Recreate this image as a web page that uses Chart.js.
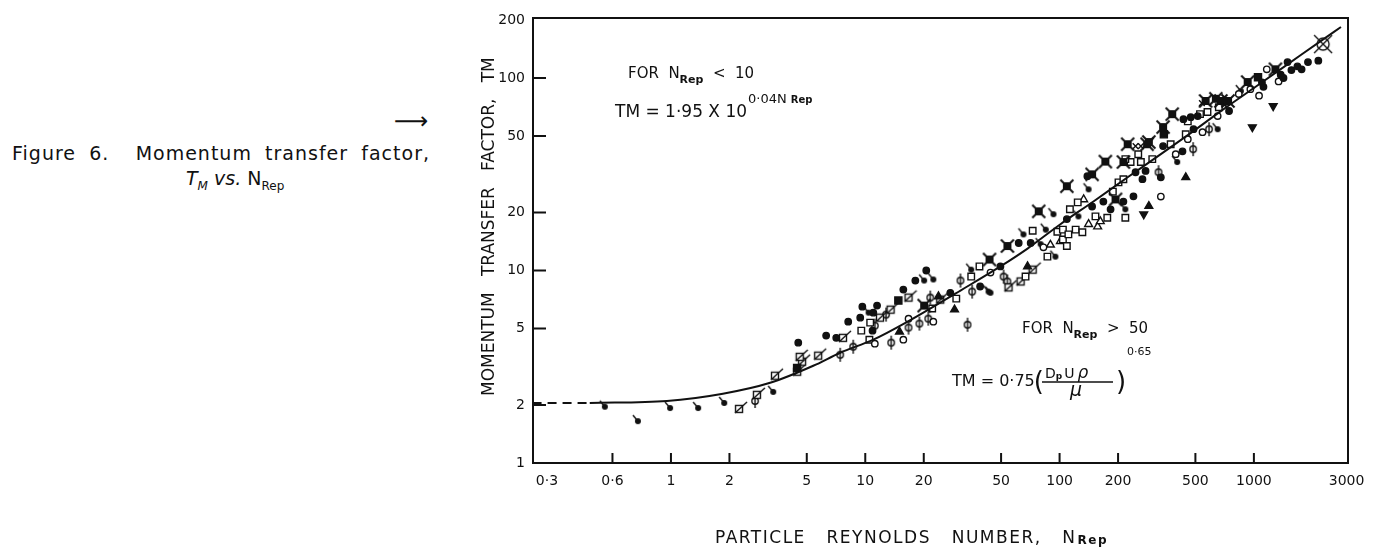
<!DOCTYPE html>
<html>
<head>
<meta charset="utf-8">
<script src="https://cdn.jsdelivr.net/npm/chart.js@4.4.1/dist/chart.umd.min.js"></script>
<style>
  html, body { margin: 0; padding: 0; background: #fff; }
  body { width: 1390px; height: 551px; position: relative; overflow: hidden;
         font-family: 'DejaVu Sans', sans-serif; color: #111; }
  #chart { position: absolute; left: 0; top: 0; }
  .cap1 { position: absolute; left: 12px; top: 141px; width: 418px; font-size: 19px; letter-spacing: 1px;
          line-height: 24px; text-align: justify; text-align-last: justify; }
  .cap2 { position: absolute; left: 186px; top: 166px; font-size: 19px; line-height: 24px; }
  .cap2 sub { font-size: 12px; }
  .arrow { position: absolute; left: 394px; top: 108px; font-size: 24px; line-height: 26px; }
</style>
</head>
<body>
<div class="arrow">⟶</div>
<div class="cap1">Figure 6.&nbsp; Momentum transfer factor,</div>
<div class="cap2"><i>T<sub>M</sub> vs.</i> N<sub>Rep</sub></div>
<canvas id="chart" width="1390" height="551"></canvas>
<script>
(function() {
    const FONT = "'DejaVu Sans', sans-serif";
    const INK = '#111';

    // axis ticks (positions follow the hand-drawn scale)
    const xTickValues = [0.23, 0.5, 1, 2, 5, 10, 20, 50, 100, 200, 500, 1000, 3000];
    const xTickLabels = ['0·3', '0·6', '1', '2', '5', '10', '20', '50', '100', '200', '500', '1000', '3000'];
    const yTickValues = [1, 2, 5, 10, 20, 50, 100, 200];

    // correlation curve
    const dashX = [0.194, 0.382];
    const dashY = [2.05, 2.05];
    const curveX = [0.382, 0.953, 1.85, 3.24, 5.4, 7.43, 11.0, 16.5, 30.9, 49.6, 68.4, 101, 150, 224, 332, 457, 676, 1000, 1496, 2215, 2806];
    const curveY = [2.05, 2.10, 2.29, 2.61, 3.2, 3.74, 4.37, 5.42, 7.87, 10.5, 13.0, 17.4, 22.9, 30.5, 40.2, 50.5, 67.3, 88.7, 118, 156, 184];

    // experimental points, [N_Rep, TM]
    const filledCircles = [[4.52,4.22],[6.29,4.59],[7.09,4.47],[8.17,5.42],[9.42,5.69],[9.66,6.49],[11.0,6.04],[11.5,6.57],
        [10.9,4.87],[15.7,7.96],[18.1,8.87],[20.6,10.0],[27.4,7.66],[39.0,8.26],[49.6,10.5],[61.6,13.9],[71.0,13.9],
        [109,18.5],[139,30.9],[147,21.5],[168,22.8],[183,20.8],[213,22.8],[240,24.3],[246,32.4],[267,29.8],[277,32.9],
        [332,30.5],[341,44.3],[429,41.6],[434,61.1],[473,62.6],[489,54.2],[514,63.4],[745,67.4],[1100,95],[1120,90],
        [1374,104],[1420,100],[1490,121],[1560,110],[1675,115],[1760,111],[1898,121],[2146,123]];
    const openCircles = [[11.2,4.17],[15.7,4.37],[16.7,5.62],[22.4,5.42],[44.1,9.75],[82.6,13.2],[332,24.2],[396,40.2],
        [457,48.1],[544,52.3],[651,63.4],[836,82.6],[959,87.5],[1063,81],[1165,111],[1340,96]];
    const openSquares = [[9.54,4.87],[10.6,5.36],[10.5,4.37],[22.1,6.35],[29.4,7.14],[35.1,9.3],[38.7,10.5],[66.8,9.3],
        [72.7,16.1],[86.6,11.8],[97.4,15.9],[104,16.3],[104,14.5],[109,13.4],[111,15.4],[113,20.8],[121,16.3],[124,22.6],
        [131,15.8],[153,19.1],[176,18.8],[188,25.7],[201,28.7],[218,18.8],[213,29.8],[232,36.6],[254,40.2],[218,37.9],
        [262,36.6],[300,37.9],[373,45.3],[446,51.0],[457,59.5],[528,64.9],[577,66.6],[660,70.5]];
    const filledSquares = [[4.46,3.12],[14.8,6.98],[344,51.0],[1050,101]];
    const filledTriangles = [[15.0,4.81],[23.8,7.33],[28.8,6.27],[68.4,10.5],[288,21.6],[446,30.5]];
    const downTriangles = [[271,19.6],[982,55.6],[1257,71.5]];
    const openTriangles = [[89.7,13.6],[101,14.2],[133,23.4],[141,17.4],[157,16.9],[162,18.0]];
    const flagDots = [[0.457,1.96],[0.676,1.65],[0.99,1.93],[1.38,1.93],[1.88,2.05],[3.36,2.34],[10.4,6.04],[20.1,8.87],
        [22.4,8.98],[35.1,10.1],[43.1,7.77],[44.1,7.66],[65.2,15.4],[79.9,13.7],[84.9,16.3],[93.0,19.6],[95.2,11.8],
        [125,19.1],[141,26.4],[218,20.8],[403,36.6],[651,54.2],[857,85.5]];
    const slashSquares = [[2.24,1.91],[2.77,2.26],[3.43,2.84],[4.46,2.98],[4.73,3.36],[4.60,3.56],[5.72,3.61],[7.68,4.47],
        [11.9,5.69],[13.5,6.26],[16.7,7.23],[24.3,7.06],[54.6,8.17],[63.0,8.77],[72.7,10.1]];
    const phiCircles = [[2.71,2.10],[7.43,3.65],[8.67,4.02],[11.2,5.17],[12.8,5.90],[13.6,4.22],[16.7,5.05],[19.0,5.30],
        [21.6,7.23],[21.1,5.62],[33.6,5.23],[30.9,8.87],[35.5,7.77],[51.5,9.3],[53.9,8.77],[323,32.4],[487,42.7],[588,54.2]];
    const starSquares = [[20.1,6.57],[43.6,11.4],[53.9,13.4],[78.1,20.3],[109,27.4],[147,31.6],[172,36.8],[194,23.4],
        [213,36.6],[224,45.3],[282,45.3],[288,46.5],[341,55.6],[380,64.9],[564,76.0],[637,78.0],[676,76.0],[736,76.0],
        [929,95.3],[1290,111]];
    const crossMarks = [[246,44.3],[262,44.3],[540,74]];
    const bigMarks = [[2270,150]];

    // small canvas markers for the odd symbols
    function marker(size, draw) {
        const c = document.createElement('canvas');
        c.width = c.height = size;
        const g = c.getContext('2d');
        g.strokeStyle = INK;
        g.fillStyle = INK;
        g.lineWidth = 1.4;
        draw(g, size / 2);
        return c;
    }
    const flagImg = marker(16, (g, m) => {
        g.beginPath(); g.arc(m, m, 3, 0, Math.PI * 2); g.fill();
        g.beginPath(); g.moveTo(m, m); g.lineTo(m - 5, m - 6); g.stroke();
    });
    const phiImg = marker(16, (g, m) => {
        g.beginPath(); g.arc(m, m, 3.2, 0, Math.PI * 2);
        g.fillStyle = '#fff'; g.fill(); g.stroke();
        g.beginPath(); g.moveTo(m, 1); g.lineTo(m, 15); g.stroke();
    });
    const slashImg = marker(18, (g, m) => {
        g.fillStyle = '#fff';
        g.fillRect(m - 3.5, m - 3.5, 7, 7);
        g.strokeRect(m - 3.5, m - 3.5, 7, 7);
        g.beginPath(); g.moveTo(m - 4, m + 4); g.lineTo(m + 8, m - 7); g.stroke();
    });
    const starImg = marker(16, (g, m) => {
        g.fillRect(m - 4, m - 4, 8, 8);
        g.lineWidth = 2;
        g.beginPath();
        g.moveTo(1.5, 1.5); g.lineTo(14.5, 14.5);
        g.moveTo(14.5, 1.5); g.lineTo(1.5, 14.5);
        g.stroke();
    });
    const bigImg = marker(24, (g, m) => {
        g.beginPath(); g.arc(m, m, 6, 0, Math.PI * 2);
        g.fillStyle = '#fff'; g.fill(); g.stroke();
        g.beginPath();
        g.moveTo(3, 3); g.lineTo(21, 21);
        g.moveTo(21, 3); g.lineTo(3, 21);
        g.stroke();
    });

    const toXY = (pts) => pts.map(p => ({ x: p[0], y: p[1] }));
    const toXY2 = (xs, ys) => xs.map((x, i) => ({ x: x, y: ys[i] }));

    const pointSets = [
        { label: 'big', pts: bigMarks, style: bigImg, r: 6 },
        { label: 'star', pts: starSquares, style: starImg, r: 5 },
        { label: 'filled circle', pts: filledCircles, style: 'circle', r: 3.2, bg: INK },
        { label: 'open circle', pts: openCircles, style: 'circle', r: 3.2, bg: '#fff' },
        { label: 'open square', pts: openSquares, style: 'rect', r: 4.6, bg: '#fff' },
        { label: 'filled square', pts: filledSquares, style: 'rect', r: 5, bg: INK },
        { label: 'triangle', pts: filledTriangles, style: 'triangle', r: 4.5, bg: INK },
        { label: 'down triangle', pts: downTriangles, style: 'triangle', r: 4.5, bg: INK, rot: 180 },
        { label: 'open triangle', pts: openTriangles, style: 'triangle', r: 4.5, bg: '#fff' },
        { label: 'flag', pts: flagDots, style: flagImg, r: 4 },
        { label: 'slash square', pts: slashSquares, style: slashImg, r: 4 },
        { label: 'phi', pts: phiCircles, style: phiImg, r: 4 },
        { label: 'cross', pts: crossMarks, style: 'crossRot', r: 4 }
    ];

    const datasets = [
        {
            type: 'line', label: 'curve', data: toXY2(curveX, curveY),
            borderColor: INK, borderWidth: 2, pointRadius: 0, cubicInterpolationMode: 'monotone', fill: false
        },
        {
            type: 'line', label: 'dash', data: toXY2(dashX, dashY),
            borderColor: INK, borderWidth: 2, borderDash: [9, 6], pointRadius: 0, fill: false
        }
    ].concat(pointSets.map(s => ({
        type: 'scatter',
        label: s.label,
        data: toXY(s.pts),
        pointStyle: s.style,
        pointRadius: s.r,
        pointRotation: s.rot || 0,
        pointBackgroundColor: s.bg || INK,
        pointBorderColor: INK,
        pointBorderWidth: 1.4
    })));

    function drawRich(ctx, x, y, parts) {
        parts.forEach(p => {
            ctx.font = (p.i ? 'italic ' : '') + (p.b ? 'bold ' : '') + p.s + 'px ' + FONT;
            ctx.fillText(p.t, x, y + (p.dy || 0));
            x += ctx.measureText(p.t).width + (p.gap || 0);
        });
        return x;
    }

    const framePlugin = {
        id: 'frame',
        afterDraw(chart) {
            const ctx = chart.ctx;
            const ca = chart.chartArea;
            const xs = chart.scales.x;
            const ys = chart.scales.y;
            ctx.save();
            ctx.strokeStyle = INK;
            ctx.fillStyle = INK;
            ctx.lineWidth = 2;
            ctx.strokeRect(ca.left, ca.top, ca.right - ca.left, ca.bottom - ca.top);

            // inward tick marks
            ctx.beginPath();
            yTickValues.slice(1, -1).forEach(v => {
                const py = ys.getPixelForValue(v);
                ctx.moveTo(ca.left, py);
                ctx.lineTo(ca.left + 13, py);
            });
            xTickValues.slice(1, -1).forEach(v => {
                const px = xs.getPixelForValue(v);
                ctx.moveTo(px, ca.bottom);
                ctx.lineTo(px, ca.bottom - 10);
            });
            ctx.stroke();

            // axis titles
            ctx.textBaseline = 'alphabetic';
            ctx.textAlign = 'left';
            ctx.letterSpacing = '1.5px';
            drawRich(ctx, ca.left + 182, 543, [
                { t: 'PARTICLE   REYNOLDS   NUMBER,   N', s: 17, gap: 1 },
                { t: 'Rep', s: 12, b: true, dy: 1 }
            ]);
            ctx.letterSpacing = '0px';
            ctx.save();
            ctx.translate(ca.left - 39, 396);
            ctx.rotate(-Math.PI / 2);
            ctx.font = '17px ' + FONT;
            ctx.fillText('MOMENTUM   TRANSFER   FACTOR,   TM', 0, 0);
            ctx.restore();

            // correlations
            drawRich(ctx, ca.left + 95, 78, [
                { t: 'FOR  N', s: 15 },
                { t: 'Rep', s: 11, b: true, dy: 5 },
                { t: '  <  10', s: 15 }
            ]);
            const ex = drawRich(ctx, ca.left + 82, 117, [{ t: 'TM = 1·95 X 10', s: 17 }]);
            drawRich(ctx, ex + 1, 103, [
                { t: '0·04N', s: 13, gap: 4 },
                { t: 'Rep', s: 10, b: true }
            ]);
            drawRich(ctx, ca.left + 489, 333, [
                { t: 'FOR  N', s: 15 },
                { t: 'Rep', s: 11, b: true, dy: 5 },
                { t: '  >  50', s: 15 }
            ]);
            const fx = drawRich(ctx, ca.left + 419, 386, [{ t: 'TM = 0·75', s: 16 }]);
            drawRich(ctx, fx - 1, 390, [{ t: '(', s: 26 }]);
            drawRich(ctx, ca.left + 512, 378, [
                { t: 'D', s: 14 },
                { t: 'p', s: 9, b: true, dy: 1, gap: 2 },
                { t: 'U', s: 14, gap: 3 },
                { t: 'ρ', s: 17, i: true }
            ]);
            ctx.lineWidth = 1.5;
            ctx.beginPath();
            ctx.moveTo(ca.left + 509, 382);
            ctx.lineTo(ca.left + 580, 382);
            ctx.stroke();
            drawRich(ctx, ca.left + 537, 396, [{ t: 'μ', s: 19, i: true }]);
            drawRich(ctx, ca.left + 583, 390, [{ t: ')', s: 26 }]);
            drawRich(ctx, ca.left + 594, 355, [{ t: '0·65', s: 11 }]);
            ctx.restore();
        }
    };

    const tickFont = { family: FONT, size: 14 };

    new Chart(document.getElementById('chart'), {
        data: { datasets: datasets },
        options: {
            responsive: false,
            animation: false,
            layout: { padding: { left: 470, right: 42, top: 18, bottom: 0 } },
            plugins: {
                legend: { display: false },
                tooltip: { enabled: false }
            },
            scales: {
                x: {
                    type: 'logarithmic',
                    min: 0.195,
                    max: 3050,
                    afterBuildTicks: (scale) => { scale.ticks = xTickValues.map(v => ({ value: v })); },
                    afterFit: (scale) => { scale.height = 88; },
                    grid: { display: false, drawTicks: false },
                    border: { display: false },
                    ticks: {
                        autoSkip: false,
                        maxRotation: 0,
                        padding: 10,
                        color: INK,
                        font: tickFont,
                        callback: (val, idx) => xTickLabels[idx]
                    }
                },
                y: {
                    type: 'logarithmic',
                    min: 1,
                    max: 205,
                    afterBuildTicks: (scale) => { scale.ticks = yTickValues.map(v => ({ value: v })); },
                    afterFit: (scale) => { scale.width = 63; },
                    grid: { display: false, drawTicks: false },
                    border: { display: false },
                    ticks: {
                        autoSkip: false,
                        padding: 8,
                        color: INK,
                        font: tickFont,
                        callback: (val) => String(val)
                    }
                }
            }
        },
        plugins: [framePlugin]
    });
})();
</script>
</body>
</html>
